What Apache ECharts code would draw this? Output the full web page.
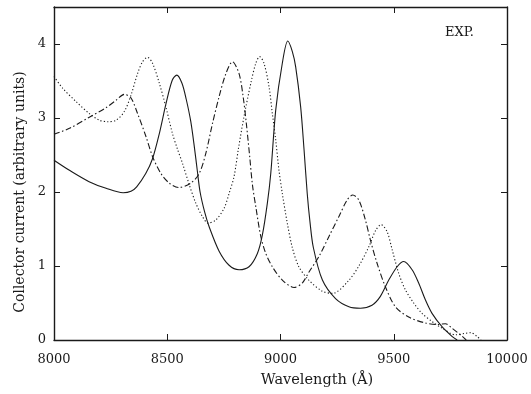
<!DOCTYPE html>
<html>
<head>
<meta charset="utf-8">
<script src="https://cdn.jsdelivr.net/npm/echarts@6/dist/echarts.min.js"></script>
<style>
html,body{margin:0;padding:0;background:#fff;}
#chart{width:531px;height:394px;}
</style>
</head>
<body>
<div id="chart"></div>
<script>
// Wavelength (Å), collector current (arbitrary units)
var solidCurve = [
  [8000,2.43],[8070,2.29],[8155,2.14],[8230,2.05],[8305,1.99],[8340,2.01],[8365,2.07],
  [8405,2.25],[8435,2.45],[8465,2.79],[8495,3.20],[8522,3.51],[8542,3.58],[8565,3.47],
  [8584,3.25],[8604,2.95],[8620,2.60],[8633,2.28],[8645,2.00],[8665,1.73],[8685,1.53],
  [8729,1.20],[8773,1.01],[8817,0.95],[8861,0.99],[8898,1.17],[8920,1.42],[8942,1.85],
  [8957,2.25],[8979,3.11],[9008,3.74],[9032,4.04],[9052,3.90],[9067,3.69],[9089,3.15],
  [9104,2.57],[9118,1.98],[9130,1.60],[9145,1.25],[9185,0.81],[9243,0.56],[9302,0.45],
  [9353,0.43],[9404,0.47],[9441,0.59],[9478,0.81],[9515,0.99],[9544,1.06],[9581,0.95],
  [9610,0.77],[9640,0.54],[9669,0.36],[9713,0.18],[9757,0.05],[9780,0.0]
];
var dashDotCurve = [
  [8000,2.78],[8068,2.86],[8156,3.01],[8230,3.14],[8274,3.24],[8311,3.32],[8340,3.27],
  [8369,3.06],[8406,2.75],[8435,2.48],[8472,2.25],[8509,2.12],[8550,2.06],[8604,2.12],
  [8641,2.25],[8670,2.52],[8700,2.93],[8729,3.29],[8759,3.60],[8788,3.76],[8817,3.60],
  [8835,3.29],[8849,2.93],[8864,2.48],[8876,2.10],[8891,1.80],[8913,1.40],[8935,1.17],
  [8964,0.99],[9008,0.81],[9060,0.71],[9096,0.77],[9126,0.92],[9170,1.13],[9214,1.40],
  [9258,1.67],[9294,1.89],[9319,1.96],[9346,1.89],[9375,1.62],[9397,1.35],[9426,1.04],
  [9463,0.72],[9507,0.45],[9566,0.31],[9640,0.23],[9698,0.21],[9728,0.22],[9757,0.16],
  [9802,0.05],[9820,0.0]
];
var dottedCurve = [
  [8000,3.56],[8039,3.40],[8098,3.22],[8156,3.06],[8200,2.97],[8237,2.95],[8274,2.97],
  [8311,3.09],[8340,3.31],[8369,3.60],[8391,3.76],[8413,3.82],[8435,3.74],[8465,3.47],
  [8494,3.15],[8523,2.79],[8545,2.58],[8567,2.39],[8597,2.10],[8626,1.85],[8655,1.67],
  [8680,1.58],[8714,1.62],[8751,1.78],[8773,1.98],[8795,2.21],[8815,2.60],[8839,3.02],
  [8869,3.47],[8891,3.74],[8908,3.83],[8927,3.74],[8949,3.43],[8964,3.06],[8979,2.70],
  [8993,2.30],[9008,1.98],[9030,1.58],[9052,1.25],[9081,0.99],[9125,0.81],[9184,0.66],
  [9230,0.63],[9300,0.80],[9346,1.00],[9390,1.26],[9420,1.48],[9444,1.56],[9471,1.46],
  [9493,1.22],[9522,0.90],[9551,0.68],[9588,0.50],[9625,0.36],[9669,0.25],[9713,0.16],
  [9772,0.07],[9816,0.09],[9840,0.10],[9867,0.05],[9885,0.0]
];
var xTicks = [8000, 8500, 9000, 9500, 10000];
var yTicks = [0, 1, 2, 3, 4];

var FONT = '"DejaVu Serif", "Liberation Serif", serif';
var INK = '#1a1a1a';

var chart = echarts.init(document.getElementById('chart'), null, {renderer: 'canvas'});
function lineSeries(data, type) {
  return {
    type: 'line', data: data, showSymbol: false, smooth: 0.3,
    lineStyle: {color: INK, width: 1.1, type: type},
    animation: false
  };
}
var axisLine = {show: true, onZero: false, lineStyle: {color: INK, width: 1.4}};
var tick = {inside: true, length: 6, lineStyle: {color: INK}};
chart.setOption({
  animation: false,
  backgroundColor: '#fff',
  grid: {left: 54, right: 24, top: 7, bottom: 54},
  xAxis: [{
    type: 'value', min: xTicks[0], max: xTicks[xTicks.length - 1], interval: 500,
    axisLine: axisLine, axisTick: tick, splitLine: {show: false},
    axisLabel: {color: INK, fontFamily: FONT, fontSize: 13, margin: 13,
      formatter: function (v) { return String(v); }}
  }, {
    type: 'value', position: 'top', min: xTicks[0], max: xTicks[xTicks.length - 1], interval: 500,
    axisLine: axisLine, axisTick: tick, splitLine: {show: false}, axisLabel: {show: false}
  }],
  yAxis: [{
    type: 'value', min: 0, max: 4.5, interval: 1,
    axisLine: axisLine, axisTick: tick, splitLine: {show: false},
    axisLabel: {color: INK, fontFamily: FONT, fontSize: 13, margin: 8,
      formatter: function (v) { return yTicks.indexOf(v) >= 0 ? String(v) : ''; }}
  }, {
    type: 'value', position: 'right', min: 0, max: 4.5, interval: 1,
    axisLine: axisLine, axisTick: tick, splitLine: {show: false}, axisLabel: {show: false}
  }],
  graphic: [{
    type: 'text', x: 445, y: 26,
    style: {text: 'EXP.', fill: INK, font: '13px ' + FONT}
  }, {
    type: 'text', x: 317, y: 380,
    style: {text: 'Wavelength (Å)', fill: INK, font: '14.5px ' + FONT,
      textAlign: 'center', textVerticalAlign: 'middle'}
  }, {
    type: 'text', x: 20, y: 192, rotation: Math.PI / 2,
    style: {text: 'Collector current (arbitrary units)', fill: INK, font: '14px ' + FONT,
      textAlign: 'center', textVerticalAlign: 'middle'}
  }],
  series: [
    lineSeries(solidCurve, 'solid'),
    lineSeries(dashDotCurve, [6, 2.5, 1.5, 2.5]),
    lineSeries(dottedCurve, [1.2, 2.2])
  ]
});
</script>
</body>
</html>
